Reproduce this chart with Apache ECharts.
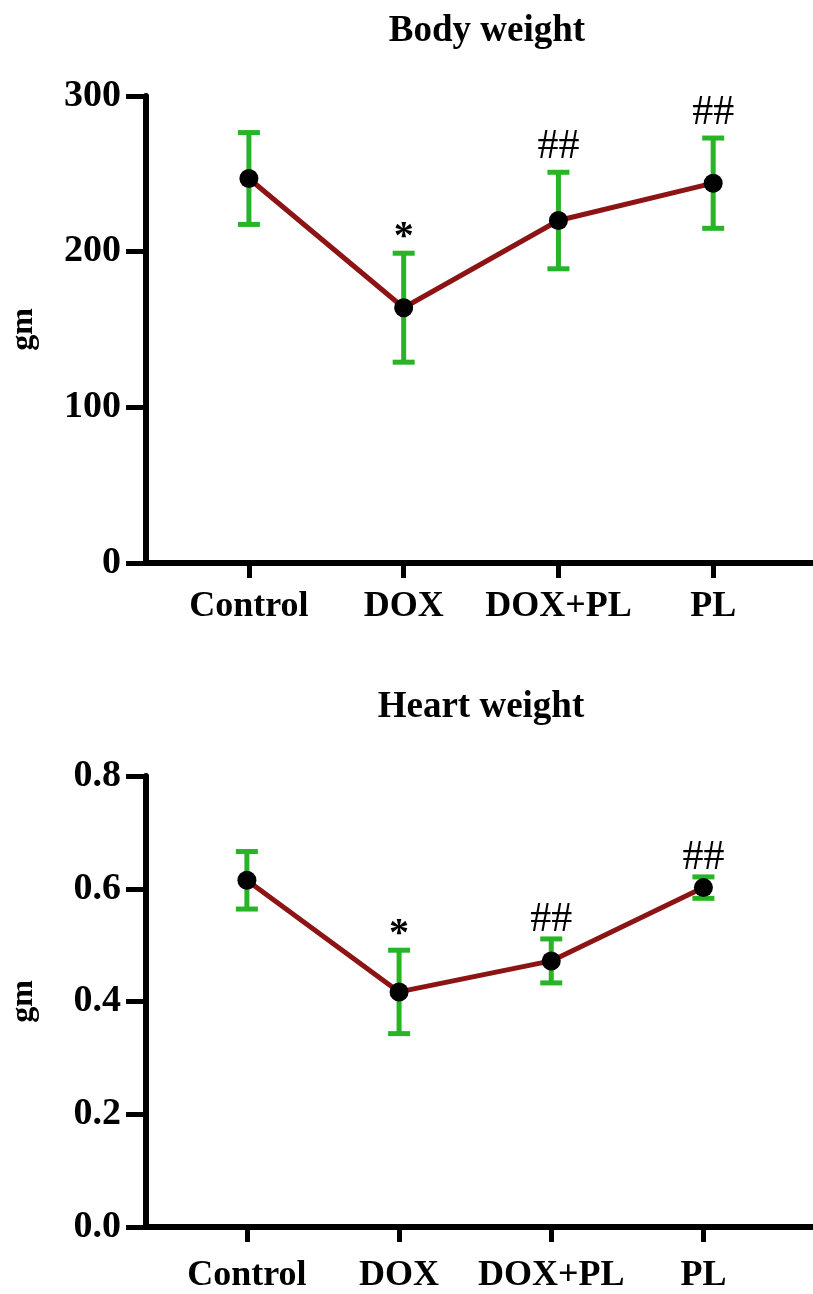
<!DOCTYPE html>
<html>
<head>
<meta charset="utf-8">
<script src="https://cdn.jsdelivr.net/npm/echarts@6/dist/echarts.min.js"></script>
<style>
  html, body { margin: 0; padding: 0; background: #fff; }
  #chart { width: 813px; height: 1294px; }
</style>
</head>
<body>
<div id="chart"></div>
<script>
// Group labels shared by both panels
const categories = ['Control', 'DOX', 'DOX+PL', 'PL'];

// Body weight (gm): mean and SD per group
const bodyMean = [247, 164, 220, 244];
const bodySD = [29.5, 35, 31, 29];
const bodyMarks = ['', '*', '##', '##'];
const bodyTicks = [0, 100, 200, 300];

// Heart weight (gm): mean and SD per group
const heartMean = [0.615, 0.417, 0.472, 0.602];
const heartSD = [0.051, 0.074, 0.039, 0.019];
const heartMarks = ['', '*', '##', '##'];
const heartTicks = [0.0, 0.2, 0.4, 0.6, 0.8];

const FONT = 'Liberation Serif';
const GREEN = '#27b427';
const LINE_RED = '#8c1414';
const INK = '#000';
const catIdx = categories.map((_, i) => i);

function errorBarItem(params, api) {
  const x = api.value(0);
  const lo = api.coord([x, api.value(1)]);
  const hi = api.coord([x, api.value(2)]);
  const hw = 11;
  const st = { stroke: GREEN, lineWidth: 5 };
  return {
    type: 'group',
    children: [
      { type: 'line', shape: { x1: hi[0], y1: hi[1], x2: lo[0], y2: lo[1] }, style: st },
      { type: 'line', shape: { x1: hi[0] - hw, y1: hi[1], x2: hi[0] + hw, y2: hi[1] }, style: st },
      { type: 'line', shape: { x1: lo[0] - hw, y1: lo[1], x2: lo[0] + hw, y2: lo[1] }, style: st }
    ]
  };
}

// Significance marks sit just above the upper error cap
function markItem(marks, hashGap) {
  return function (params, api) {
    const txt = marks[params.dataIndex];
    if (!txt) return null;
    const p = api.coord([api.value(0), api.value(1)]);
    const star = txt === '*';
    return {
      type: 'text',
      style: {
        text: txt,
        x: p[0],
        y: p[1] - (star ? -4 : hashGap),
        align: 'center',
        verticalAlign: 'bottom',
        font: (star ? 'bold 40px ' : 'normal 42px ') + '"' + FONT + '"',
        fill: INK
      }
    };
  };
}

function xAxisFor(gridIndex, min, max, margin) {
  return {
    type: 'value', gridIndex, min, max,
    axisLine: { show: true, onZero: false, lineStyle: { color: INK, width: 6 } },
    axisTick: { show: true, customValues: catIdx, length: 15, lineStyle: { color: INK, width: 5 } },
    axisLabel: {
      customValues: catIdx, margin,
      formatter: v => categories[Math.round(v)] || '',
      color: INK, fontFamily: FONT, fontWeight: 'bold', fontSize: 36
    },
    splitLine: { show: false }
  };
}

function yAxisFor(gridIndex, ticks, digits) {
  return {
    type: 'value', gridIndex,
    min: ticks[0], max: ticks[ticks.length - 1], interval: ticks[1] - ticks[0],
    name: 'gm', nameLocation: 'middle', nameGap: 106, nameRotate: 90,
    nameTextStyle: { color: INK, fontFamily: FONT, fontWeight: 'bold', fontSize: 32 },
    axisLine: { show: true, onZero: false, lineStyle: { color: INK, width: 6 } },
    axisTick: { show: true, length: 20, lineStyle: { color: INK, width: 5 } },
    axisLabel: {
      margin: 25, color: INK, fontFamily: FONT, fontWeight: 'bold', fontSize: 38,
      formatter: v => v.toFixed(digits)
    },
    splitLine: { show: false }
  };
}

function panelSeries(idx, means, sds, marks, hashGap) {
  return [
    {
      type: 'custom', xAxisIndex: idx, yAxisIndex: idx, z: 2,
      renderItem: errorBarItem,
      data: means.map((m, i) => [i, m - sds[i], m + sds[i]]),
      silent: true
    },
    {
      type: 'line', xAxisIndex: idx, yAxisIndex: idx, z: 3,
      data: means.map((m, i) => [i, m]),
      symbol: 'circle', symbolSize: 19,
      itemStyle: { color: INK },
      lineStyle: { color: LINE_RED, width: 5 },
      animation: false
    },
    {
      type: 'custom', xAxisIndex: idx, yAxisIndex: idx, z: 4,
      renderItem: markItem(marks, hashGap),
      data: means.map((m, i) => [i, m + sds[i]]),
      silent: true
    }
  ];
}

const chart = echarts.init(document.getElementById('chart'), null, { renderer: 'canvas' });
chart.setOption({
  animation: false,
  backgroundColor: '#fff',
  title: [
    {
      text: 'Body weight', left: 482, top: 8, textAlign: 'center',
      textStyle: { color: INK, fontFamily: FONT, fontWeight: 'bold', fontSize: 37 }
    },
    {
      text: 'Heart weight', left: 476, top: 684, textAlign: 'center',
      textStyle: { color: INK, fontFamily: FONT, fontWeight: 'bold', fontSize: 37 }
    }
  ],
  grid: [
    { left: 145, right: 0, top: 96, height: 467 },
    { left: 145, right: 0, top: 776, height: 453 }
  ],
  xAxis: [
    xAxisFor(0, -0.665, 3.645, 26),
    xAxisFor(1, -0.663, 3.72, 31)
  ],
  yAxis: [
    yAxisFor(0, bodyTicks, 0),
    yAxisFor(1, heartTicks, 1)
  ],
  series: [
    ...panelSeries(0, bodyMean, bodySD, bodyMarks, 4),
    ...panelSeries(1, heartMean, heartSD, heartMarks, -2)
  ]
});
</script>
</body>
</html>
